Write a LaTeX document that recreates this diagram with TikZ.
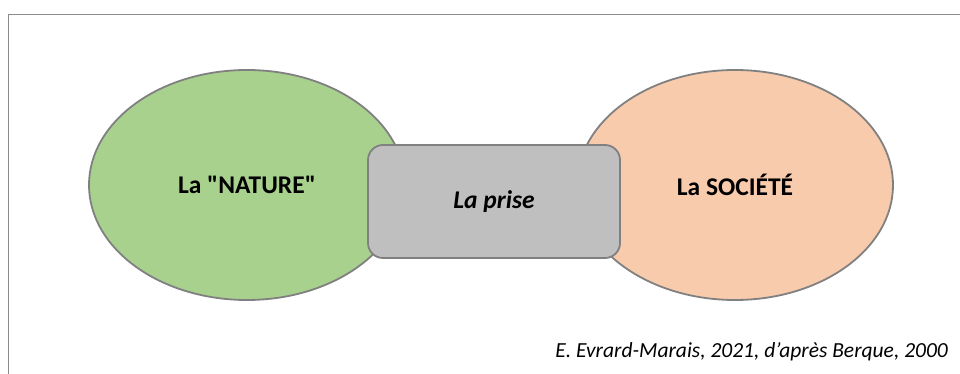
\documentclass[tikz,border=0pt]{standalone}
\usepackage{fontspec}
\setmainfont{Carlito}[Ligatures=TeXOff]
\usetikzlibrary{shapes.geometric}
\definecolor{edgegray}{HTML}{808080}
\definecolor{framegray}{HTML}{8C8C8C}
\definecolor{naturegreen}{HTML}{A9D18E}
\definecolor{societeorange}{HTML}{F8CBAD}
\definecolor{prisegray}{HTML}{BFBFBF}
\tikzset{
  blob/.style={ellipse, draw=edgegray, line width=1.8pt, inner sep=0pt,
    minimum width=316pt, minimum height=230pt,
    font=\fontsize{25.5}{30}\selectfont\bfseries},
  prisebox/.style={rectangle, rounded corners=15pt, draw=edgegray, line width=1.8pt,
    fill=prisegray, minimum width=252pt, minimum height=113pt, inner sep=0pt,
    font=\fontsize{25.5}{30}\selectfont\bfseries\itshape},
  captext/.style={inner sep=0pt, font=\fontsize{21.5}{25}\selectfont\itshape}
}
\begin{document}
\begin{tikzpicture}[x=1pt,y=-1pt]
\useasboundingbox (0,0) rectangle (960,374);
\fill[white] (0,0) rectangle (960,374);
\draw[framegray, line width=1.8pt] (8.5,374) -- (8.5,14.5) -- (960,14.5);
\node[blob, fill=naturegreen] (nature) at (247,185) {La "NATURE"};
\node[blob, fill=societeorange] (societe) at (735,185) {La SOCIÉTÉ};
\node[prisebox] (prise) at (494,201.5) {La prise};
\node[captext, anchor=base east] (caption) at (948,357) {E. Evrard-Marais, 2021, d’après Berque, 2000};
\end{tikzpicture}
\end{document}
